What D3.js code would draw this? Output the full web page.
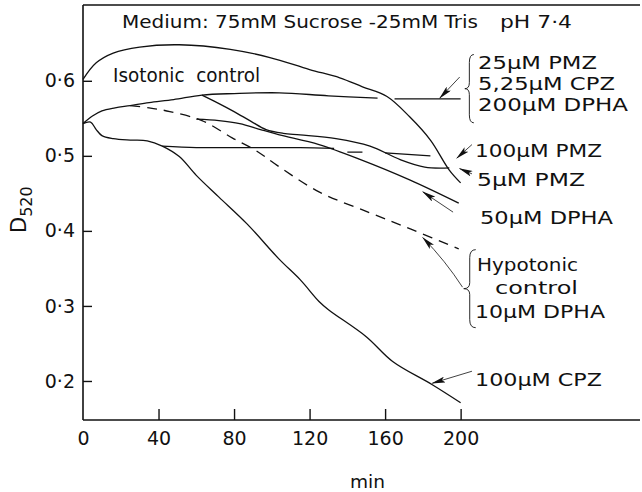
<!DOCTYPE html>
<html>
<head>
<meta charset="utf-8">
<script src="https://cdn.jsdelivr.net/npm/d3@7"></script>
<style>
  body { margin: 0; background: #fff; }
  text { font-family: "DejaVu Sans", sans-serif; fill: #111; }
</style>
</head>
<body>
<svg id="chart" width="642" height="492"></svg>
<script>
// time (min) and D520 readings, one pair of arrays per trace
const isoT = [0, 7, 16, 30, 51, 78, 99, 120, 136, 148, 161, 173, 184, 194, 200];
const isoV = [0.602, 0.624, 0.637, 0.645, 0.648, 0.642, 0.631, 0.615, 0.604, 0.592, 0.579, 0.552, 0.521, 0.481, 0.464];

// 25uM PMZ / 5,25uM CPZ / 200uM DPHA (shared trunk + plateau, null = gap in the line)
const plateauT = [0, 5, 10, 17, 25, 35, 48, 63, 80, 104, 130, 156, 160, 165, 200];
const plateauV = [0.543, 0.553, 0.560, 0.564, 0.567, 0.571, 0.575, 0.581, 0.583, 0.584, 0.580, 0.577, null, 0.576, 0.576];

const pmz5T = [63, 71, 80, 89, 97, 106, 115, 134, 152, 168, 181, 194];
const pmz5V = [0.581, 0.571, 0.559, 0.546, 0.535, 0.530, 0.528, 0.523, 0.513, 0.495, 0.485, 0.484];

const hypoT = [25, 35, 46, 63, 79, 91, 103, 125, 152, 175, 199];
const hypoV = [0.567, 0.564, 0.559, 0.547, 0.524, 0.508, 0.487, 0.452, 0.424, 0.401, 0.376];

const dpha50T = [60, 72, 83, 94, 104, 125, 147, 173, 199];
const dpha50V = [0.549, 0.547, 0.543, 0.535, 0.528, 0.515, 0.495, 0.468, 0.437];

const cpz100T = [0, 4, 7, 10, 16, 25, 34, 42, 51, 60, 72, 87, 104, 115, 125, 130, 150, 164, 185, 200];
const cpz100V = [0.543, 0.545, 0.535, 0.527, 0.523, 0.521, 0.520, 0.513, 0.499, 0.474, 0.445, 0.409, 0.362, 0.335, 0.306, 0.295, 0.259, 0.226, 0.195, 0.171];

const pmz100T = [42, 60, 80, 100, 115, 133, 136, 140, 148, 154, 160, 184];
const pmz100V = [0.513, 0.511, 0.511, 0.511, 0.511, 0.510, null, 0.505, 0.505, null, 0.504, 0.500];

const xTicks = [0, 40, 80, 120, 160, 200];
const yTicks = [0.2, 0.3, 0.4, 0.5, 0.6];

const svg = d3.select("#chart");
const margin = { top: 5, left: 83, bottom: 72 };
const W = 642, H = 492;

const x = d3.scaleLinear().domain([0, 295]).range([margin.left, W - 2]);
const y = d3.scaleLinear().domain([0.148, 0.701]).range([H - margin.bottom, margin.top]);

// frame: left axis, top rule, bottom axis
svg.append("line").attr("x1", x(0)).attr("x2", x(0)).attr("y1", y(0.701)).attr("y2", y(0.148))
   .attr("stroke", "#111").attr("stroke-width", 1.6);
svg.append("line").attr("x1", x(0)).attr("x2", x(295)).attr("y1", y(0.701)).attr("y2", y(0.701))
   .attr("stroke", "#111").attr("stroke-width", 1.6);
svg.append("line").attr("x1", x(0)).attr("x2", x(295)).attr("y1", y(0.148)).attr("y2", y(0.148))
   .attr("stroke", "#111").attr("stroke-width", 1.6);

const yAxis = svg.append("g")
    .attr("transform", `translate(${x(0)},0)`)
    .call(d3.axisLeft(y).tickValues(yTicks).tickSize(-9).tickPadding(8)
        .tickFormat(d => d3.format(".1f")(d).replace(".", "·")));
yAxis.select(".domain").remove();
yAxis.selectAll("line").attr("stroke", "#111").attr("stroke-width", 1.4);
yAxis.selectAll("text").attr("font-size", 19).attr("font-family", "DejaVu Sans").attr("fill", "#111");

const xAxis = svg.append("g")
    .attr("transform", `translate(0,${y(0.148)})`)
    .call(d3.axisBottom(x).tickValues(xTicks).tickSize(-11).tickPadding(12));
xAxis.select(".domain").remove();
xAxis.selectAll(".tick").filter(d => d === 0).select("line").remove();
xAxis.selectAll("line").attr("stroke", "#111").attr("stroke-width", 1.4);
xAxis.selectAll("text").attr("font-size", 19).attr("font-family", "DejaVu Sans").attr("fill", "#111");

// axis titles
svg.append("text").attr("x", 350).attr("y", 488).attr("font-size", 17)
   .attr("textLength", 35).attr("lengthAdjust", "spacingAndGlyphs").text("min");
const yl = svg.append("text").attr("transform", "translate(26,233) rotate(-90)")
   .attr("font-size", 21);
yl.append("tspan").text("D");
yl.append("tspan").attr("font-size", 16).attr("dy", 6).text("520");

// heading
svg.append("text").attr("x", 122).attr("y", 28).attr("font-size", 17)
   .attr("textLength", 356).attr("lengthAdjust", "spacingAndGlyphs")
   .text("Medium: 75mM Sucrose -25mM Tris");
svg.append("text").attr("x", 500).attr("y", 28).attr("font-size", 17)
   .attr("textLength", 72).attr("lengthAdjust", "spacingAndGlyphs").text("pH 7·4");

// traces
const line = d3.line()
    .defined(d => d[1] != null)
    .x(d => x(d[0])).y(d => y(d[1]))
    .curve(d3.curveCatmullRom.alpha(0.5));

const traces = [
  { t: isoT, v: isoV },
  { t: plateauT, v: plateauV },
  { t: pmz5T, v: pmz5V },
  { t: hypoT, v: hypoV, dash: "10,7" },
  { t: dpha50T, v: dpha50V },
  { t: cpz100T, v: cpz100V },
  { t: pmz100T, v: pmz100V }
];

svg.selectAll(".trace").data(traces).enter().append("path")
   .attr("class", "trace")
   .attr("d", s => line(s.t.map((t, i) => [t, s.v[i]])))
   .attr("fill", "none").attr("stroke", "#111").attr("stroke-width", 1.3)
   .attr("stroke-dasharray", s => s.dash || null);

// in-plot label
svg.append("text").attr("x", 113).attr("y", 82).attr("font-size", 19)
   .attr("textLength", 147).attr("lengthAdjust", "spacingAndGlyphs")
   .style("white-space", "pre").text("Isotonic  control");

// arrowhead marker
svg.append("defs").append("marker")
   .attr("id", "head").attr("viewBox", "0 0 14 6").attr("refX", 13).attr("refY", 3)
   .attr("markerWidth", 14).attr("markerHeight", 6).attr("markerUnits", "userSpaceOnUse")
   .attr("orient", "auto")
   .append("path").attr("d", "M0,0 L14,3 L0,6 L3,3 Z").attr("fill", "#111");

// annotation arrows [tailT, tailV, tipT, tipV]
const arrows = [
  [199.5, 0.605, 189, 0.577],
  [206, 0.515, 198, 0.497],
  [206, 0.476, 199.5, 0.483],
  [196, 0.425, 180, 0.452],
  [206, 0.213, 185, 0.197]
];
arrows.forEach(a => {
  svg.append("line").attr("x1", x(a[0])).attr("y1", y(a[1])).attr("x2", x(a[2])).attr("y2", y(a[3]))
     .attr("stroke", "#111").attr("stroke-width", 0.8).attr("marker-end", "url(#head)");
});
svg.append("path")
   .attr("d", `M${x(201)},${y(0.325)} Q${x(192)},${y(0.36)} ${x(180)},${y(0.391)}`)
   .attr("fill", "none").attr("stroke", "#111").attr("stroke-width", 0.8).attr("marker-end", "url(#head)");

// braces
function brace(tRight, v0, v1, w) {
  const xr = x(tRight), y0 = y(v0), y1 = y(v1), ym = (y0 + y1) / 2, xm = xr - w / 2, xt = xr - w;
  return `M${xr},${y0} Q${xm},${y0} ${xm},${y0 + 8} L${xm},${ym - 6} Q${xm},${ym} ${xt},${ym}` +
         ` Q${xm},${ym} ${xm},${ym + 6} L${xm},${y1 - 8} Q${xm},${y1} ${xr},${y1}`;
}
svg.append("path").attr("d", brace(207, 0.635, 0.544, 9))
   .attr("fill", "none").attr("stroke", "#111").attr("stroke-width", 0.9);
svg.append("path").attr("d", brace(208, 0.375, 0.271, 12))
   .attr("fill", "none").attr("stroke", "#111").attr("stroke-width", 0.9);

// right-hand labels: text, x, baseline, width
const labels = [
  ["25µM PMZ", 478, 69, 119],
  ["5,25µM CPZ", 478, 90, 137],
  ["200µM DPHA", 478, 111, 150],
  ["100µM PMZ", 475, 157, 127],
  ["5µM PMZ", 477, 186, 108],
  ["50µM DPHA", 480, 224, 133],
  ["Hypotonic", 477, 271, 101],
  ["control", 495, 294, 83],
  ["10µM DPHA", 475, 318, 130],
  ["100µM CPZ", 475, 386, 127]
];
svg.selectAll(".lab").data(labels).enter().append("text")
   .attr("class", "lab").attr("x", d => d[1]).attr("y", d => d[2])
   .attr("font-size", 18)
   .attr("textLength", d => d[3]).attr("lengthAdjust", "spacingAndGlyphs")
   .text(d => d[0]);
</script>
</body>
</html>
